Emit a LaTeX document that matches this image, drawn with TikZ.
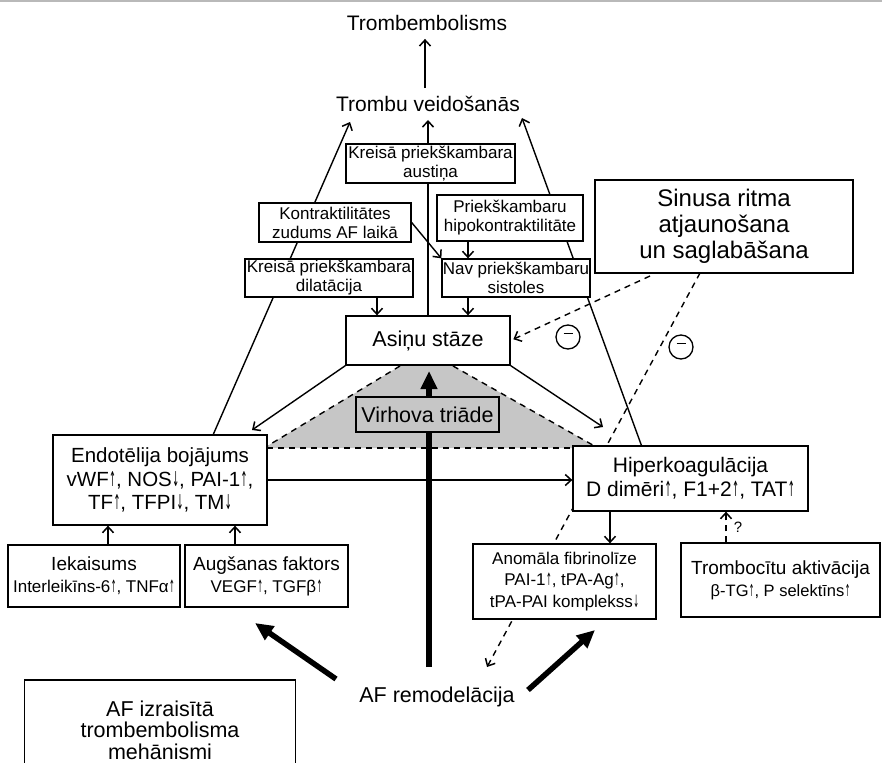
\documentclass[tikz,border=0pt]{standalone}
\usepackage{fontspec}
\usepackage{graphicx}
\setmainfont{Liberation Sans}
\newfontfamily\djv{DejaVu Sans}
\usetikzlibrary{arrows.meta}
\newcommand{\ua}{\kern0.4pt\scalebox{0.4}[1]{\djv ↑}}
\newcommand{\da}{\kern0.4pt\scalebox{0.4}[1]{\djv ↓}}
\newcommand{\fs}[2]{\fontsize{#1}{#2}\selectfont}
\pgfdeclarelayer{bgfill}
\pgfdeclarelayer{background}
\pgfsetlayers{bgfill,background,main}
\begin{document}
\begin{tikzpicture}[x=1pt,y=-1pt,
  box/.style={draw,line width=1.3pt,fill=white,inner sep=0pt,align=center},
  lbl/.style={inner sep=0pt,align=center},
  arr/.style={line width=1.4pt,-{Straight Barb[length=6pt,width=11pt,line width=1.5pt]}},
  dsh/.style={line width=1.4pt,dash pattern=on 6pt off 5pt},
  darr/.style={dsh,-{Straight Barb[length=6pt,width=11pt,line width=1.5pt]}},
  bigarr/.style={line width=5.5pt,-{Triangle[length=18pt,width=16pt]}},
  minus/.style={draw,circle,line width=1.3pt,minimum size=24pt,inner sep=0pt}
]
\useasboundingbox (0,0) rectangle (882,762);
\clip (0,0) rectangle (882,762);
\fill[gray!55] (0,0) rectangle (882,2.5);

% text labels
\node[lbl,font=\fs{21}{24}] (temb) at (427,23) {Trombembolisms};
\node[lbl,font=\fs{21}{24}] (veid) at (428,104) {Trombu veidošanās};
\node[lbl,font=\fs{21.5}{24}] (afr) at (437,697) {AF remodelācija};

% boxes
\node[box,minimum width=169pt,minimum height=39pt,font=\fs{17}{19}] (aust) at (430.5,163.5) {Kreisā priekškambara\\austiņa};
\node[box,minimum width=152pt,minimum height=39pt,font=\fs{17}{19}] (kontr) at (335,222.5) {Kontraktilitātes\\zudums AF laikā};
\node[box,minimum width=146pt,minimum height=46pt,font=\fs{17}{19}] (hipo) at (510,218) {Priekškambaru\\hipokontraktilitāte};
\node[box,minimum width=168pt,minimum height=38pt,font=\fs{17}{19}] (dil) at (329,278) {Kreisā priekškambara\\dilatācija};
\node[box,minimum width=148pt,minimum height=38pt,font=\fs{17}{19}] (nav) at (516,278) {Nav priekškambaru\\sistoles};
\node[box,minimum width=164pt,minimum height=49pt,font=\fs{21.5}{24}] (asinu) at (428,340.5) {Asiņu stāze};
\node[box,fill=gray!45,minimum width=143pt,minimum height=35pt,font=\fs{21.5}{24}] (virh) at (427.5,414.5) {Virhova triāde};
\node[box,minimum width=258pt,minimum height=93pt,font=\fs{24}{26}] (sin) at (724,226.5) {Sinusa ritma\\atjaunošana\\un saglabāšana};
\node[box,minimum width=214pt,minimum height=90pt,font=\fs{20.5}{23.5}] (endo) at (160,480) {Endotēlija bojājums\\vWF\ua, NOS\da, PAI-1\ua,\\TF\ua, TFPI\da, TM\da};
\node[box,minimum width=235pt,minimum height=65pt,font=\fs{21}{24}] (hiper) at (690.5,478.5) {Hiperkoagulācija\\D dimēri\ua, F1+2\ua, TAT\ua};
\node[box,minimum width=172pt,minimum height=62pt,font=\fs{19}{22}] (iek) at (94,576) {Iekaisums\\{\fs{17}{20}Interleikīns-6\ua, TNFα\ua}};
\node[box,minimum width=163pt,minimum height=62pt,font=\fs{19}{22}] (aug) at (266.5,576) {Augšanas faktors\\{\fs{17}{20}VEGF\ua, TGFβ\ua}};
\node[box,minimum width=183pt,minimum height=75pt,font=\fs{17}{21.5}] (anom) at (564.5,581.5) {Anomāla fibrinolīze\\PAI-1\ua, tPA-Ag\ua,\\tPA-PAI komplekss\da};
\node[box,minimum width=199pt,minimum height=74pt,font=\fs{19}{22}] (tromb) at (780.5,580) {Trombocītu aktivācija\\{\fs{16.5}{20}β-TG\ua, P selektīns\ua}};
\node[box,minimum width=271pt,minimum height=100pt,font=\fs{21.5}{21.5}] (afiz) at (160,730) {AF izraisītā\\trombembolisma\\mehānismi};
\node[minus] (m1) at (568,337) {\rule[6.5pt]{9pt}{1.1pt}};
\node[minus] (m2) at (681,347) {\rule[6.5pt]{9pt}{1.1pt}};
\node[lbl,font=\fs{15}{17}] (q) at (738,527) {?};

% coordinates
\coordinate (vL) at (350,122);
\coordinate (vM) at (428,120);
\coordinate (vR) at (522,118);
\coordinate (eL) at (213,435);
\coordinate (hR) at (642,447);
\coordinate (aL) at (252,430);
\coordinate (aR) at (603,427);
\coordinate (sA) at (650,276);
\coordinate (sB) at (700,273);
\coordinate (dT) at (487,667);
\coordinate (bV) at (429,667);
\coordinate (tV) at (429,371);
\coordinate (lT) at (336,679);
\coordinate (lH) at (255,623);
\coordinate (rT) at (528,690);
\coordinate (rH) at (595,630);
\coordinate (g1) at (400,366);
\coordinate (g2) at (453,366);
\coordinate (g3) at (598,448);
\coordinate (g4) at (264,448);
\coordinate (g5) at (573,448);
\coordinate (g6) at (267,448);

% gray triad region
\begin{pgfonlayer}{bgfill}
\fill[gray!45] (g1) -- (g2) -- (g3) -- (g4) -- cycle;
\end{pgfonlayer}

\begin{pgfonlayer}{background}
\draw[dsh] (g1) -- (g4);
\draw[dsh] (g2) -- (g3);
\draw[dsh] (g6) -- (g5);
\draw[arr] (eL) -- (vL);
\draw[arr] (asinu.north) -- (vM);
\draw[arr] (hR) -- (vR);
\draw[darr] (sB) -- (dT);
\draw[bigarr] (bV) -- (tV);
\end{pgfonlayer}

% connectors on top
\draw[arr,shorten <=8pt,shorten >=8pt] ([xshift=-3pt]veid.north) -- ([xshift=-3pt]veid.north |- temb.south);
\draw[arr] ([xshift=-42pt]hipo.south) -- ([xshift=-42pt]hipo.south |- nav.north);
\draw[arr] ([xshift=48pt]dil.south) -- ([xshift=48pt]dil.south |- asinu.north);
\draw[arr] ([xshift=-48pt]nav.south) -- ([xshift=-48pt]nav.south |- asinu.north);
\draw[arr] (kontr.east) -- (nav.north west);
\draw[arr] (asinu.south west) -- (aL);
\draw[arr] (asinu.south east) -- (aR);
\draw[darr,shorten >=3pt] (sA) -- (asinu.east);
\draw[arr] (endo.east) -- (endo.east -| hiper.west);
\draw[arr] ([xshift=14pt]iek.north) -- ([xshift=14pt]iek.north |- endo.south);
\draw[arr] ([xshift=-31.5pt]aug.north) -- ([xshift=-31.5pt]aug.north |- endo.south);
\draw[arr] ([xshift=-80.5pt]hiper.south) -- ([xshift=-80.5pt]hiper.south |- anom.north);
\draw[darr] ([xshift=-54.5pt]tromb.north) -- ([xshift=-54.5pt]tromb.north |- hiper.south);
\draw[bigarr] (lT) -- (lH);
\draw[bigarr] (rT) -- (rH);
\end{tikzpicture}
\end{document}
